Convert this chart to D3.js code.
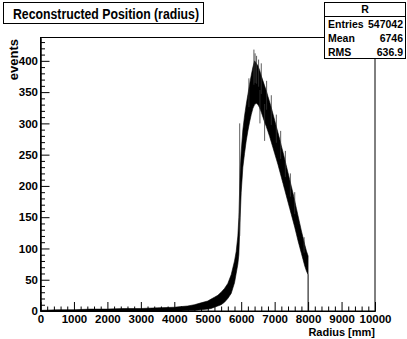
<!DOCTYPE html>
<html>
<head>
<meta charset="utf-8">
<script src="https://cdn.jsdelivr.net/npm/d3@7"></script>
<style>
  body { margin: 0; background: #fff; }
  svg { display: block; font-family: "Liberation Sans", Arial, sans-serif; font-weight: bold; }
</style>
</head>
<body>
<div id="chart"></div>
<script>
// histogram envelope (1 mm bins are too dense to draw one by one)
const radius = [0, 500, 1000, 1500, 2000, 2500, 3000, 3500, 4000, 4200, 4400, 4600, 4800, 5000,
  5100, 5200, 5300, 5400, 5500, 5600, 5700, 5800, 5850, 5900, 5930, 5970, 6000, 6050, 6100,
  6150, 6200, 6250, 6300, 6350, 6400, 6450, 6500, 6550, 6600, 6650, 6700, 6750, 6800, 6850,
  6900, 6950, 7000, 7050, 7100, 7150, 7200, 7250, 7300, 7350, 7400, 7450, 7500, 7550, 7600,
  7650, 7700, 7750, 7800, 7850, 7900, 7950, 8000];
const upper = [1, 2, 2, 3, 3, 4, 4, 5, 6, 7, 8, 10, 13, 16,
  19, 22, 25, 30, 36, 44, 58, 80, 95, 120, 150, 225, 255, 290, 312,
  330, 346, 362, 377, 390, 400, 396, 392, 385, 376, 368, 360, 352, 343, 334,
  325, 315, 305, 295, 285, 275, 264, 254, 243, 232, 221, 210, 199, 188, 176,
  164, 152, 140, 128, 117, 106, 96, 88];
const lower = [0, 0, 0, 0, 0, 0, 0, 0, 0, 0, 1, 1, 2, 3,
  4, 6, 8, 10, 14, 20, 28, 45, 60, 75, 90, 150, 190, 230, 252,
  272, 288, 302, 314, 324, 330, 332, 330, 325, 318, 310, 302, 295, 287, 279,
  270, 261, 252, 243, 234, 224, 214, 204, 194, 184, 174, 164, 154, 144, 134,
  123, 112, 102, 92, 82, 72, 64, 58];
// single-bin spikes sticking out of the band: [radius, value]
const spikes = [[5955, 300], [6380, 418], [6415, 412], [6460, 408], [6520, 402], [6600, 396],
  [6700, 272], [6760, 368], [6900, 345], [7050, 314], [7320, 256], [7600, 190], [7880, 118],
  [6230, 372], [6560, 300], [7180, 288], [7470, 220]];
const cutRadius = 8000;

const xTicks = [0, 1000, 2000, 3000, 4000, 5000, 6000, 7000, 8000, 9000, 10000];
const yTicks = [0, 50, 100, 150, 200, 250, 300, 350, 400];
const stats = [["Entries", "547042"], ["Mean", "6746"], ["RMS", "636.9"]];

const width = 407, height = 339;
const svg = d3.select('#chart').append('svg')
  .attr('width', width).attr('height', height);

const x = d3.scaleLinear().domain([0, 10000]).range([40.5, 375]);
const y = d3.scaleLinear().domain([0, 437]).range([311, 37.7]);

// band
const band = radius.map((r, i) => ({ r, hi: upper[i], lo: lower[i] }));
svg.append('path')
  .datum(band)
  .attr('d', d3.area().x(d => x(d.r)).y0(d => y(d.lo)).y1(d => y(d.hi)))
  .attr('fill', '#000')
  .attr('stroke', '#000')
  .attr('stroke-width', 0.6);

// spikes run from their tip back into the middle of the band
const bandMid = d3.scaleLinear().domain(radius).range(radius.map((r, i) => (upper[i] + lower[i]) / 2));
svg.append('g').selectAll('line')
  .data(spikes)
  .enter().append('line')
  .attr('x1', d => x(d[0])).attr('x2', d => x(d[0]))
  .attr('y1', d => y(d[1])).attr('y2', d => y(d[0] < 5960 ? 120 : bandMid(d[0])))
  .attr('stroke', '#333').attr('stroke-width', 0.8);

// drop at the cut
svg.append('line')
  .attr('x1', x(cutRadius)).attr('x2', x(cutRadius))
  .attr('y1', y(lower[lower.length - 1])).attr('y2', y(0))
  .attr('stroke', '#000').attr('stroke-width', 1);

// frame
svg.append('rect')
  .attr('x', 40.5).attr('y', 37.5).attr('width', 334.5).attr('height', 273.5)
  .attr('fill', 'none').attr('stroke', '#000').attr('stroke-width', 1);

// axes
const minorX = d3.range(0, 10001, 200).filter(v => v % 1000 !== 0);
const minorY = d3.range(0, 431, 10).filter(v => v % 50 !== 0);

const gx = svg.append('g').attr('transform', `translate(0,${y(0)})`);
gx.call(d3.axisBottom(x).tickValues(xTicks).tickSize(-9).tickSizeOuter(0).tickPadding(4).tickFormat(d3.format('d')));
gx.append('g').call(d3.axisBottom(x).tickValues(minorX).tickSize(-4.5).tickSizeOuter(0).tickFormat(''));
gx.selectAll('.domain').attr('stroke', '#000');
gx.selectAll('text').attr('font-size', 11.5).attr('font-family', null).attr('fill', '#000');

const gy = svg.append('g').attr('transform', `translate(${x(0)},0)`);
gy.call(d3.axisLeft(y).tickValues(yTicks).tickSize(-9).tickSizeOuter(0).tickPadding(2.5));
gy.append('g').call(d3.axisLeft(y).tickValues(minorY).tickSize(-4.5).tickSizeOuter(0).tickFormat(''));
gy.selectAll('text').attr('font-size', 11.5).attr('font-family', null).attr('fill', '#000');
gy.selectAll('.tick line').attr('stroke', '#000');

// axis titles
svg.append('text')
  .attr('x', 375).attr('y', 336)
  .attr('text-anchor', 'end').attr('font-size', 11)
  .text('Radius [mm]');
svg.append('text')
  .attr('transform', 'translate(18,39) rotate(-90)')
  .attr('text-anchor', 'end').attr('font-size', 13)
  .text('events');

// title box
svg.append('rect')
  .attr('x', 3.5).attr('y', 2.5).attr('width', 200).attr('height', 21)
  .attr('fill', '#fff').attr('stroke', '#000');
svg.append('text')
  .attr('x', 13).attr('y', 18.5)
  .attr('font-size', 14)
  .attr('textLength', 186).attr('lengthAdjust', 'spacingAndGlyphs')
  .text('Reconstructed Position (radius)');

// stats box
const sb = svg.append('g');
sb.append('rect')
  .attr('x', 324.5).attr('y', 2.5).attr('width', 81).attr('height', 56)
  .attr('fill', '#fff').attr('stroke', '#000');
sb.append('line')
  .attr('x1', 324.5).attr('x2', 405.5).attr('y1', 16.5).attr('y2', 16.5)
  .attr('stroke', '#000');
sb.append('text')
  .attr('x', 365).attr('y', 13).attr('text-anchor', 'middle').attr('font-size', 10.5)
  .text('R');
stats.forEach(([k, v], i) => {
  sb.append('text').attr('x', 328).attr('y', 28 + i * 14).attr('font-size', 10.5).text(k);
  sb.append('text').attr('x', 403).attr('y', 28 + i * 14).attr('font-size', 10.5)
    .attr('text-anchor', 'end').text(v);
});
</script>
</body>
</html>
